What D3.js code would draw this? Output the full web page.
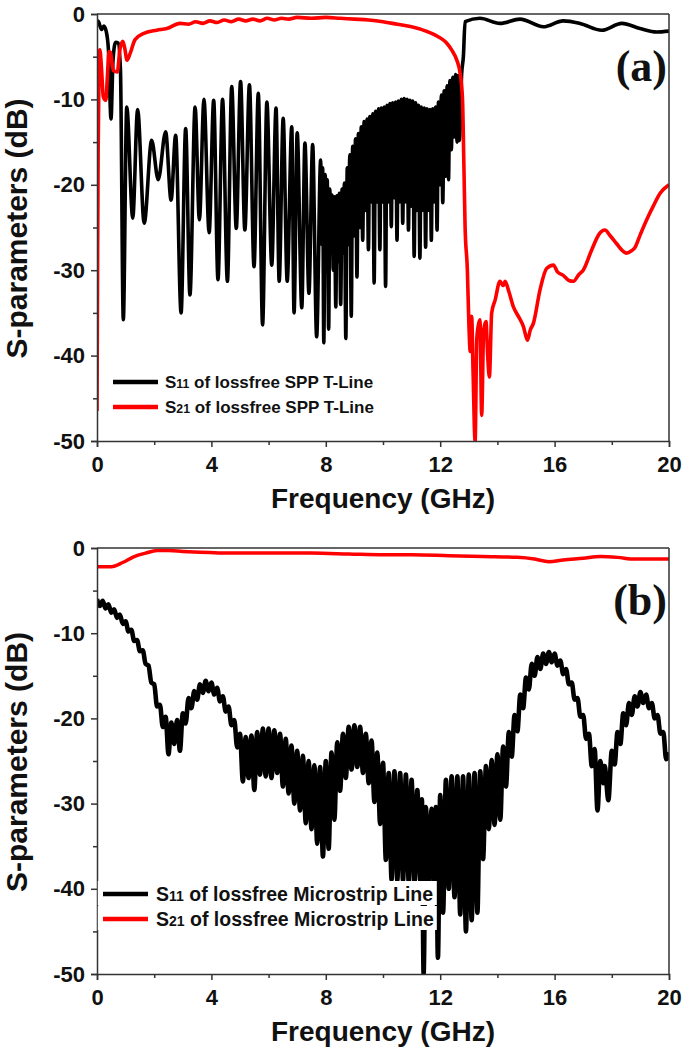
<!DOCTYPE html>
<html><head><meta charset="utf-8">
<script src="https://cdn.jsdelivr.net/npm/d3@7"></script>
<style>html,body{margin:0;padding:0;background:#fff;} svg{display:block;}</style>
</head><body>
<script>
// ---------- data ----------
const xMajorTicks = [0, 4, 8, 12, 16, 20];
const xMinorTicks = [2, 6, 10, 14, 18];
const yMajorTicks = [0, -10, -20, -30, -40, -50];
const yMinorTicks = [-5, -15, -25, -35, -45];

const xTitle = "Frequency (GHz)";
const yTitle = "S-parameters (dB)";
const panelLabels = ["(a)", "(b)"];
const legendA = ["of lossfree SPP T-Line", "of lossfree SPP T-Line"];
const legendB = ["of lossfree Microstrip Line", "of lossfree Microstrip Line"];
const legendSubs = ["11", "21"];

// (a) S11 of SPP T-Line  [GHz, dB]
const s11A = [[0.0,-0.8],[0.05,-0.9],[0.16,-1.8],[0.24,-1.4],[0.32,-2.0],[0.4,-4.2],[0.49,-12.3],[0.56,-5.4],[0.65,-3.3],[0.74,-3.4],[0.82,-6.5],[0.92,-35.8],[1.04,-10.9],[1.25,-23.9],[1.42,-11.2],[1.65,-24.5],[1.91,-14.8],[2.14,-19.4],[2.40,-13.8],[2.59,-21.8],[2.75,-14.2],[2.94,-35.0],[3.10,-13.4],[3.25,-32.9],[3.43,-10.9],[3.58,-24.1],[3.74,-10.0],[3.92,-25.6],[4.08,-10.1],[4.23,-31.1],[4.39,-10.0],[4.56,-31.3],[4.71,-8.5],[4.87,-25.1],[5.02,-7.9],[5.17,-25.3],[5.33,-8.3],[5.49,-29.6],[5.64,-9.3],[5.79,-36.4],[5.94,-10.3],[6.11,-29.4],[6.26,-11.0],[6.37,-31.3],[6.51,-12.2],[6.65,-31.3],[6.81,-13.2],[6.89,-35.0],[7.0,-13.9],[7.16,-34.4],[7.27,-15.1],[7.41,-32.7],[7.54,-15.3],[7.68,-37.8],[7.82,-17.1],[7.86,-27],[7.89,-18],[7.93,-38.5],[7.98,-18.8],[8.02,-27],[8.05,-19.4],[8.10,-36.9],[8.14,-20.5],[8.18,-28],[8.22,-21.2],[8.26,-30],[8.30,-21.4],[8.35,-34.3],[8.39,-21.3],[8.43,-29],[8.47,-21.0],[8.52,-34.0],[8.57,-20.5],[8.61,-28],[8.65,-19.8],[8.70,-38.0],[8.75,-18.0],[8.79,-27],[8.84,-16.5],[8.89,-35.4],[8.94,-15.5],[8.99,-26],[9.04,-14.6],[9.09,-30.8],[9.14,-14.0],[9.19,-25],[9.24,-13.2],[9.29,-26.5],[9.34,-12.6],[9.39,-23],[9.44,-12.3],[9.49,-27.6],[9.54,-12.0],[9.59,-22],[9.64,-11.7],[9.69,-31.5],[9.74,-11.4],[9.79,-22],[9.84,-11.1],[9.89,-27.6],[9.94,-11.0],[9.99,-22],[10.04,-10.9],[10.09,-31.9],[10.14,-10.7],[10.19,-22],[10.24,-10.5],[10.29,-24.9],[10.34,-10.4],[10.39,-21.5],[10.44,-10.3],[10.49,-26.5],[10.54,-10.2],[10.59,-22],[10.64,-10.0],[10.69,-24.5],[10.74,-9.9],[10.79,-22],[10.84,-10.0],[10.89,-25.3],[10.94,-10.1],[10.99,-22.5],[11.04,-10.2],[11.09,-28.4],[11.14,-10.4],[11.19,-23],[11.24,-10.7],[11.29,-28.6],[11.34,-10.9],[11.39,-23],[11.44,-11.0],[11.49,-27.3],[11.54,-11.1],[11.59,-23],[11.64,-11.2],[11.69,-26.5],[11.74,-11.1],[11.79,-22],[11.84,-10.9],[11.89,-25.3],[11.94,-10.3],[11.99,-20],[12.04,-9.5],[12.09,-22.1],[12.14,-9.0],[12.19,-19],[12.24,-8.4],[12.29,-19.4],[12.34,-7.8],[12.39,-15.9],[12.44,-7.4],[12.49,-14.4],[12.54,-7.1],[12.59,-15],[12.63,-7.2],[12.67,-14.8],[12.75,-7.0],[12.81,-5.0],[12.87,-0.9],[13.39,-0.5],[14.09,-1.1],[14.79,-0.6],[15.61,-1.5],[16.30,-0.8],[16.89,-1.1],[17.65,-1.9],[18.35,-1.1],[18.99,-1.7],[19.57,-2.1],[20.0,-2.0]];

// (a) S21 of SPP T-Line
const s21A = [[0.0,-46.5],[0.02,-30],[0.04,-16],[0.07,-7],[0.1,-4.2],[0.16,-6.5],[0.22,-9.7],[0.31,-10.1],[0.36,-7.5],[0.42,-4.4],[0.47,-4.5],[0.57,-6.6],[0.71,-6.8],[0.80,-4.2],[0.90,-3.2],[0.97,-4.0],[1.05,-5.4],[1.15,-4.7],[1.33,-3.0],[1.62,-2.3],[2.09,-1.9],[2.44,-1.7],[2.9,-1.1],[3.2,-1.2],[3.45,-0.9],[3.7,-1.1],[3.95,-0.8],[4.2,-1.0],[4.45,-0.7],[4.7,-0.9],[4.95,-0.6],[5.2,-0.8],[5.45,-0.6],[5.7,-0.8],[5.95,-0.5],[6.2,-0.7],[6.45,-0.5],[6.7,-0.6],[7.0,-0.4],[7.5,-0.5],[8.0,-0.4],[8.5,-0.5],[9.0,-0.6],[9.5,-0.7],[10.0,-0.9],[10.5,-1.2],[11.0,-1.5],[11.5,-2.0],[11.9,-2.6],[12.2,-3.3],[12.4,-4.2],[12.58,-5.4],[12.7,-7.0],[12.78,-10],[12.83,-18],[12.87,-24.9],[12.95,-30],[13.0,-36],[13.05,-39.5],[13.1,-35.4],[13.15,-42],[13.22,-50],[13.28,-38],[13.33,-36.5],[13.39,-35.8],[13.45,-47],[13.52,-37],[13.6,-36],[13.66,-40],[13.72,-42.5],[13.8,-35],[13.92,-33.5],[14.09,-31.3],[14.2,-31.8],[14.27,-31.3],[14.4,-32.5],[14.56,-34.3],[14.75,-35.5],[14.91,-36.6],[15.05,-38.2],[15.15,-37],[15.26,-36.2],[15.49,-32.3],[15.72,-29.8],[15.96,-29.4],[16.1,-30.2],[16.30,-30.6],[16.5,-31.2],[16.66,-31.3],[16.85,-30.5],[17.0,-30],[17.3,-27.6],[17.55,-25.8],[17.76,-25.3],[17.95,-26],[18.17,-26.9],[18.4,-27.8],[18.52,-28.0],[18.7,-27.7],[18.8,-27.4],[19.0,-25.8],[19.22,-24.1],[19.45,-22.5],[19.69,-21.0],[20.0,-20.0]];

// (b) S11 of Microstrip Line
const s11B = [[0.0,-6.0],[0.1,-6.8],[0.2,-6.2],[0.3,-7.1],[0.4,-6.6],[0.5,-7.6],[0.6,-7.2],[0.7,-8.2],[0.8,-7.8],[0.9,-8.9],[1.0,-8.6],[1.1,-9.8],[1.2,-9.6],[1.3,-10.9],[1.4,-10.8],[1.5,-12.1],[1.6,-12.0],[1.7,-13.6],[1.8,-13.8],[1.9,-15.8],[2.0,-16.0],[2.1,-18.6],[2.2,-18.4],[2.3,-21.0],[2.4,-19.8],[2.5,-24.2],[2.6,-20.5],[2.7,-23.0],[2.8,-20.2],[2.9,-23.8],[3.0,-19.4],[3.1,-20.6],[3.2,-17.6],[3.3,-18.8],[3.4,-16.8],[3.5,-17.8],[3.6,-16.0],[3.7,-17.0],[3.8,-15.6],[3.9,-16.8],[4.0,-15.8],[4.1,-17.2],[4.2,-16.4],[4.3,-18.0],[4.4,-17.4],[4.5,-19.2],[4.6,-18.6],[4.7,-20.8],[4.8,-20.2],[4.9,-23.4],[5.0,-21.8],[5.1,-27.4],[5.2,-22.2],[5.3,-27.0],[5.4,-22.0],[5.5,-28.4],[5.6,-21.6],[5.7,-26.6],[5.8,-21.2],[5.9,-26.8],[6.0,-21.2],[6.1,-27.0],[6.2,-21.4],[6.3,-26.4],[6.4,-21.8],[6.5,-28.0],[6.6,-22.4],[6.7,-28.8],[6.8,-23.2],[6.9,-30.0],[7.0,-23.8],[7.1,-30.8],[7.2,-24.4],[7.3,-32.3],[7.4,-25.0],[7.5,-33.0],[7.6,-25.5],[7.7,-34.7],[7.8,-25.7],[7.9,-36.2],[8.0,-25.0],[8.1,-35.3],[8.2,-24.0],[8.3,-31.9],[8.4,-22.8],[8.5,-28.5],[8.6,-21.8],[8.7,-27.0],[8.8,-21.0],[8.9,-26.0],[9.0,-20.8],[9.1,-25.7],[9.2,-21.0],[9.3,-26.4],[9.4,-21.8],[9.5,-27.6],[9.6,-22.6],[9.7,-29.8],[9.8,-24.0],[9.9,-32.4],[10.0,-25.2],[10.1,-36.6],[10.2,-26.4],[10.3,-38.9],[10.4,-26.2],[10.5,-39.0],[10.6,-26.4],[10.7,-39.0],[10.8,-26.6],[10.9,-39.2],[11.0,-27.2],[11.1,-39.2],[11.2,-28.4],[11.3,-39.0],[11.36,-29.5],[11.42,-50],[11.5,-30.4],[11.6,-39.5],[11.7,-30.6],[11.8,-40],[11.85,-30.4],[11.92,-48.1],[12.0,-29.0],[12.1,-42.8],[12.2,-27.2],[12.3,-40],[12.4,-26.8],[12.5,-41],[12.6,-26.8],[12.7,-43],[12.8,-26.8],[12.9,-45],[13.0,-26.6],[13.1,-43.7],[13.2,-26.4],[13.3,-42.8],[13.4,-26.2],[13.5,-36.5],[13.6,-25.6],[13.7,-33.0],[13.8,-24.9],[13.9,-32.5],[14.0,-24.2],[14.1,-31.9],[14.2,-23.3],[14.3,-28.0],[14.4,-21.6],[14.5,-24.5],[14.6,-19.6],[14.7,-21.5],[14.8,-17.2],[14.9,-18.8],[15.0,-15.2],[15.1,-16.6],[15.2,-13.6],[15.3,-15.0],[15.4,-12.8],[15.5,-14.2],[15.6,-12.4],[15.7,-13.6],[15.8,-12.2],[15.9,-13.4],[16.0,-12.4],[16.1,-13.8],[16.2,-13.2],[16.3,-14.8],[16.4,-14.2],[16.5,-16.0],[16.6,-15.8],[16.7,-17.8],[16.8,-17.6],[16.9,-19.8],[17.0,-19.6],[17.1,-22.4],[17.2,-21.8],[17.3,-25.6],[17.4,-23.6],[17.5,-30.8],[17.6,-25.0],[17.7,-27.6],[17.75,-25.6],[17.88,-29.6],[18.0,-23.8],[18.1,-25.4],[18.2,-21.6],[18.3,-23.0],[18.4,-19.4],[18.5,-20.8],[18.6,-18.2],[18.7,-19.6],[18.8,-17.4],[18.9,-18.6],[19.0,-16.9],[19.1,-18.2],[19.2,-17.2],[19.3,-18.8],[19.4,-18.2],[19.5,-20.0],[19.6,-19.6],[19.7,-21.8],[19.8,-21.6],[19.9,-24.8],[20.0,-24.0]];

// (b) S21 of Microstrip Line
const s21B = [[0,-2.2],[0.5,-2.2],[0.9,-1.7],[1.3,-1.0],[1.7,-0.6],[2.1,-0.3],[2.5,-0.3],[3.0,-0.4],[3.6,-0.5],[4.8,-0.6],[6.0,-0.6],[7.5,-0.6],[8.8,-0.7],[10.0,-0.8],[11.0,-0.8],[12.3,-0.9],[13.5,-1.0],[14.7,-1.1],[15.3,-1.3],[15.8,-1.6],[16.3,-1.4],[17.0,-1.2],[17.6,-1.0],[18.2,-1.1],[18.8,-1.3],[19.4,-1.3],[20,-1.3]];

// ---------- drawing ----------
const W = 685, H = 1057;
const FONT = "'Liberation Sans', Arial, sans-serif";
const svg = d3.select("body").append("svg").attr("width", W).attr("height", H)
  .style("background", "#fff");

const x = d3.scaleLinear().domain([0, 20]).range([97, 669]);

function drawPanel(idx, top, bottom, s11, s21, legendTexts, cfg, labelBaseline) {
  const y = d3.scaleLinear().domain([-50, 0]).range([bottom, top]);
  const g = svg.append("g");
  const clipId = "clip" + idx;
  svg.append("defs").append("clipPath").attr("id", clipId)
    .append("rect").attr("x", 97).attr("y", top - 2).attr("width", 572).attr("height", bottom - top + 2);

  const line = d3.line().x(d => x(d[0])).y(d => y(d[1])).curve(d3.curveMonotoneX);
  const plot = g.append("g").attr("clip-path", `url(#${clipId})`);
  plot.append("path").datum(s11).attr("d", line)
    .attr("fill", "none").attr("stroke", "#000").attr("stroke-width", cfg.w11)
    .attr("stroke-linejoin", "round");
  plot.append("path").datum(s21).attr("d", line)
    .attr("fill", "none").attr("stroke", "#f00").attr("stroke-width", cfg.w21)
    .attr("stroke-linejoin", "round");

  // frame (top, right)
  g.append("line").attr("x1", 97).attr("x2", 669).attr("y1", top).attr("y2", top)
    .attr("stroke", "#333").attr("stroke-width", 1.5);
  g.append("line").attr("x1", 669).attr("x2", 669).attr("y1", top).attr("y2", bottom)
    .attr("stroke", "#333").attr("stroke-width", 1.5);

  // axes
  const fmt = d => String(d);
  g.append("g").attr("transform", `translate(0,${bottom})`)
    .call(d3.axisBottom(x).tickValues(xMajorTicks).tickSize(6).tickPadding(9).tickFormat(fmt));
  g.append("g").attr("transform", `translate(0,${bottom})`)
    .call(d3.axisBottom(x).tickValues(xMinorTicks).tickSize(4).tickFormat(""))
    .call(s => s.select(".domain").remove());
  g.append("g").attr("transform", "translate(97,0)")
    .call(d3.axisLeft(y).tickValues(yMajorTicks).tickSize(6).tickPadding(6).tickFormat(fmt));
  g.append("g").attr("transform", "translate(97,0)")
    .call(d3.axisLeft(y).tickValues(yMinorTicks).tickSize(4).tickFormat(""))
    .call(s => s.select(".domain").remove());
  g.selectAll(".domain").attr("stroke", "#333").attr("stroke-width", 1.5);
  g.selectAll(".tick line").attr("stroke", "#333").attr("stroke-width", 1.5);
  g.selectAll(".tick text").attr("font-family", FONT).attr("font-weight", "bold")
    .attr("font-size", 22).attr("fill", "#111");

  // titles
  g.append("text").attr("x", 383).attr("y", bottom + 67).attr("text-anchor", "middle")
    .attr("font-family", FONT).attr("font-weight", "bold").attr("font-size", 28).attr("fill", "#111")
    .text(xTitle);
  g.append("text").attr("transform", `translate(27,${(top + bottom) / 2 + 1}) rotate(-90)`)
    .attr("text-anchor", "middle")
    .attr("font-family", FONT).attr("font-weight", "bold").attr("font-size", 30).attr("fill", "#111")
    .text(yTitle);

  // panel label
  g.append("text").attr("x", 667).attr("y", labelBaseline).attr("text-anchor", "end")
    .attr("font-family", "'Liberation Serif', 'Times New Roman', serif").attr("font-weight", "bold")
    .attr("font-size", 44).attr("fill", "#111").text(panelLabels[idx]);

  // legend
  const colors = ["#000", "#f00"];
  legendTexts.forEach((t, i) => {
    const ly = cfg.y0 + i * cfg.dy;
    if (cfg.box) {
      g.append("rect").attr("x", 97.8).attr("y", ly - 13).attr("width", cfg.boxW)
        .attr("height", 24).attr("fill", "#fff");
    }
    g.append("line").attr("x1", cfg.lx0).attr("x2", cfg.lx1).attr("y1", ly).attr("y2", ly)
      .attr("stroke", colors[i]).attr("stroke-width", 4.5);
    const tx = g.append("text").attr("x", cfg.tx).attr("y", ly + cfg.fs * 0.36)
      .attr("font-family", FONT).attr("font-weight", "bold").attr("font-size", cfg.fs).attr("fill", "#111");
    tx.append("tspan").text("S");
    tx.append("tspan").attr("font-size", cfg.fs * 0.72).text(legendSubs[i]);
    tx.append("tspan").text(" " + t);
  });
}

drawPanel(0, 14, 441, s11A, s21A, legendA,
  {y0: 382, dy: 25, lx0: 113, lx1: 158, tx: 165, fs: 17, box: false, w11: 3.6, w21: 3.6}, 81);
drawPanel(1, 548, 974, s11B, s21B, legendB,
  {y0: 894, dy: 25, lx0: 103, lx1: 148, tx: 156, fs: 19.5, box: true, boxW: 339, w11: 4.6, w21: 3.5}, 615);
</script>
</body></html>
